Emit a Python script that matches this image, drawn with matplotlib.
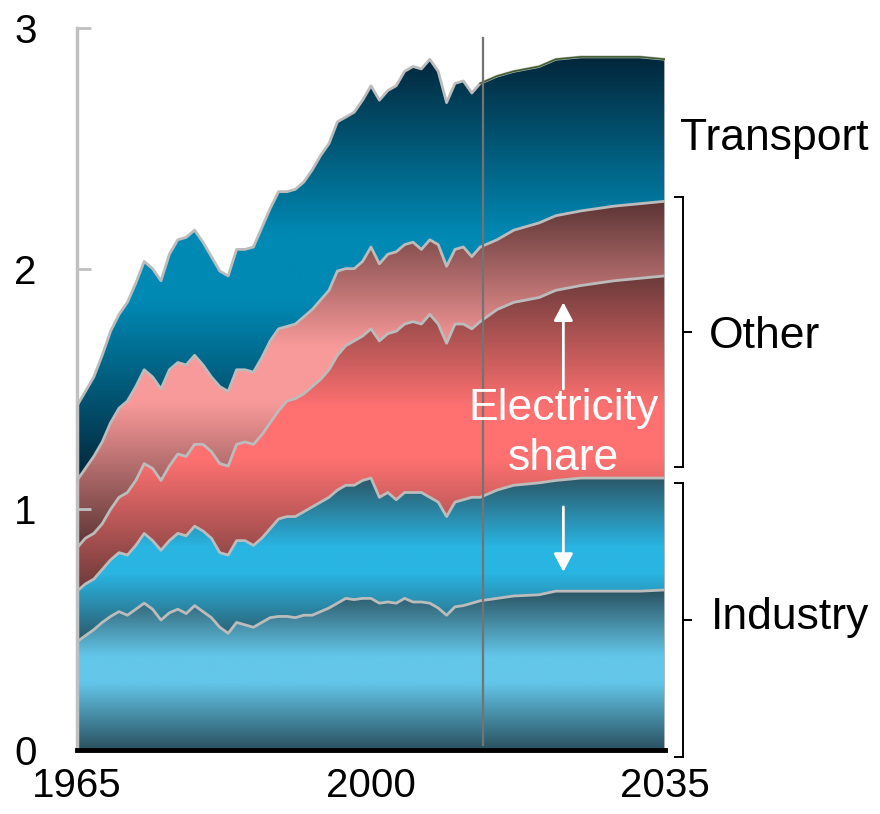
import numpy as np
import matplotlib
matplotlib.use("Agg")
import matplotlib.pyplot as plt
from matplotlib.colors import LinearSegmentedColormap
from matplotlib.patches import Polygon, FancyArrowPatch
from matplotlib.lines import Line2D

plt.rcParams['font.family'] = ['Liberation Sans', 'DejaVu Sans']

# ---------------- data (billion toe, cumulative boundaries) ----------------
years = list(range(1965, 2014)) + [2015, 2017, 2020, 2022, 2025, 2029, 2032, 2035]

industry_nonelec_top = [
    0.45, 0.475, 0.50, 0.53, 0.555, 0.575, 0.56, 0.585, 0.61, 0.585,
    0.54, 0.57, 0.585, 0.567, 0.60, 0.575, 0.55, 0.51, 0.485, 0.53,
    0.52, 0.51, 0.53, 0.55, 0.555, 0.555, 0.55, 0.56, 0.56, 0.575,
    0.59, 0.61, 0.63, 0.625, 0.63, 0.63, 0.61, 0.615, 0.61, 0.63,
    0.615, 0.615, 0.61, 0.59, 0.56, 0.595, 0.60, 0.61, 0.62,
    0.63, 0.64, 0.645, 0.66, 0.66, 0.66, 0.66, 0.665]

industry_top = [
    0.66, 0.69, 0.71, 0.75, 0.79, 0.82, 0.81, 0.85, 0.90, 0.87,
    0.83, 0.87, 0.90, 0.89, 0.93, 0.91, 0.88, 0.82, 0.81, 0.87,
    0.87, 0.85, 0.88, 0.92, 0.96, 0.97, 0.97, 0.99, 1.01, 1.03,
    1.05, 1.08, 1.10, 1.10, 1.12, 1.13, 1.05, 1.07, 1.04, 1.07,
    1.07, 1.07, 1.05, 1.03, 0.97, 1.03, 1.04, 1.05, 1.05,
    1.08, 1.10, 1.11, 1.12, 1.13, 1.13, 1.13, 1.13]

other_elec_top = [
    0.84, 0.88, 0.90, 0.94, 1.00, 1.05, 1.07, 1.12, 1.19, 1.17,
    1.12, 1.18, 1.23, 1.22, 1.27, 1.27, 1.24, 1.19, 1.18, 1.27,
    1.28, 1.27, 1.31, 1.36, 1.41, 1.45, 1.46, 1.48, 1.51, 1.54,
    1.58, 1.64, 1.68, 1.70, 1.72, 1.75, 1.70, 1.73, 1.74, 1.77,
    1.78, 1.77, 1.81, 1.77, 1.69, 1.77, 1.77, 1.75, 1.78,
    1.83, 1.86, 1.88, 1.91, 1.93, 1.95, 1.96, 1.97]

other_top = [
    1.12, 1.17, 1.22, 1.28, 1.36, 1.42, 1.45, 1.51, 1.58, 1.55,
    1.50, 1.58, 1.61, 1.60, 1.64, 1.60, 1.55, 1.51, 1.49, 1.58,
    1.58, 1.57, 1.63, 1.70, 1.75, 1.76, 1.77, 1.80, 1.83, 1.87,
    1.91, 1.99, 2.00, 2.00, 2.03, 2.09, 2.02, 2.06, 2.07, 2.10,
    2.11, 2.08, 2.12, 2.10, 2.01, 2.08, 2.09, 2.05, 2.09,
    2.12, 2.16, 2.19, 2.22, 2.24, 2.26, 2.27, 2.28]

transport_top = [
    1.43, 1.49, 1.55, 1.64, 1.74, 1.81, 1.86, 1.94, 2.03, 2.00,
    1.95, 2.06, 2.12, 2.13, 2.16, 2.11, 2.05, 1.99, 1.97, 2.08,
    2.08, 2.09, 2.17, 2.25, 2.32, 2.32, 2.33, 2.36, 2.41, 2.47,
    2.52, 2.61, 2.63, 2.65, 2.70, 2.76, 2.70, 2.74, 2.76, 2.82,
    2.84, 2.83, 2.87, 2.82, 2.69, 2.77, 2.78, 2.73, 2.77,
    2.80, 2.82, 2.84, 2.87, 2.88, 2.88, 2.88, 2.87]

outlook_start = 2013.3
x_ticks = [1965, 2000, 2035]
y_ticks = [0, 1, 2, 3]

# gradient colours: (dark edge, bright centre) per layer
layer_colors = [
    ('#29505f', '#63c7e9'),   # industry non-electric
    ('#2c5868', '#29b5e2'),   # industry electricity
    ('#6b3a3a', '#ff7171'),   # other electricity
    ('#5c3434', '#f99a9a'),   # other non-electric
    ('#03263a', '#0089b3'),   # transport
]

# ---------------- figure ----------------
W, H = 880, 814
fig = plt.figure(figsize=(W / 100, H / 100), dpi=100)
ax = fig.add_axes([77 / W, (H - 750) / H, (665 - 77) / W, (750 - 28) / H])
ax.set_xlim(1965, 2035)
ax.set_ylim(0, 3)

x = np.array(years, dtype=float)
bounds = [np.zeros(len(x))] + [np.array(a) for a in
          (industry_nonelec_top, industry_top, other_elec_top, other_top, transport_top)]

for i, (dark, bright) in enumerate(layer_colors):
    lo, hi = bounds[i], bounds[i + 1]
    ymin, ymax = lo.min(), hi.max()
    cmap = LinearSegmentedColormap.from_list(
        f'g{i}', [(0, dark), (0.42, bright), (0.58, bright), (1, dark)])
    grad = np.linspace(0, 1, 256).reshape(-1, 1)
    im = ax.imshow(grad, extent=[1965, 2035, ymin, ymax], origin='lower',
                   aspect='auto', cmap=cmap, interpolation='bilinear', zorder=1)
    verts = np.column_stack([np.r_[x, x[::-1]], np.r_[hi, lo[::-1]]])
    patch = Polygon(verts, closed=True, facecolor='none', edgecolor='none',
                    transform=ax.transData)
    ax.add_patch(patch)
    im.set_clip_path(patch)

for b in bounds[1:]:
    ax.plot(x, b, color='#bcbcbc', lw=2, zorder=3, solid_joinstyle='round')
# top line in the outlook period
proj = x >= 2013
ax.plot(x[proj], bounds[-1][proj], color='#3f5f32', lw=1.2, zorder=4)
ax.plot([2035, 2035], [0, bounds[-1][-1]], color='#bcbcbc', lw=2, zorder=3)

ax.plot([outlook_start, outlook_start], [0.02, 2.96], color='#737373', lw=1.6, zorder=5)

ax.set_aspect('auto')
ax.set_xlim(1965, 2035)
ax.set_ylim(0, 3)

for s in ('top', 'right'):
    ax.spines[s].set_visible(False)
ax.spines['left'].set_color('#c0c0c0')
ax.spines['left'].set_linewidth(2.5)
ax.spines['bottom'].set_color('black')
ax.spines['bottom'].set_linewidth(3.5)
ax.spines['bottom'].set_zorder(6)

ax.set_yticks(y_ticks)
ax.set_yticklabels([str(t) for t in y_ticks])
ax.set_xticks(x_ticks)
ax.set_xticklabels([str(t) for t in x_ticks])
ax.tick_params(axis='y', direction='in', length=10, width=2, color='#c0c0c0',
               labelsize=29, pad=29)
ax.tick_params(axis='x', length=0, labelsize=29, pad=12)

# electricity share annotation
ax.text(2022.9, 1.42, 'Electricity', color='white', fontsize=32,
        ha='center', va='center', zorder=7)
ax.text(2022.9, 1.21, 'share', color='white', fontsize=32,
        ha='center', va='center', zorder=7)
for y0, y1 in [(1.50, 1.86), (1.01, 0.74)]:
    arr = FancyArrowPatch((2022.9, y0), (2022.9, y1),
                          arrowstyle='-|>,head_length=1.1,head_width=0.58',
                          mutation_scale=10, color='white', lw=2,
                          shrinkA=0, shrinkB=0, zorder=7)
    ax.add_patch(arr)

# labels and brackets on the right (figure pixel coordinates)
def fx(px):
    return px / W

def fy(py):
    return (H - py) / H

fig.text(fx(680), fy(150), 'Transport', fontsize=32, ha='left', va='baseline')
fig.text(fx(709), fy(337), 'Other', fontsize=32, ha='left', va='center')
fig.text(fx(711), fy(617), 'Industry', fontsize=32, ha='left', va='center')

def bracket(top, bottom):
    xv, xl, xr = 683, 675, 691
    mid = (top + bottom) / 2
    segs = [([xl, xv], [top, top]), ([xv, xv], [top, bottom]),
            ([xl, xv], [bottom, bottom]), ([xv, xr], [mid, mid])]
    for xs, ys in segs:
        fig.add_artist(Line2D([fx(v) for v in xs], [fy(v) for v in ys],
                              color='black', lw=1.4, transform=fig.transFigure))

bracket(197, 467)
bracket(483, 757)

fig.savefig('out.png', dpi=100)
